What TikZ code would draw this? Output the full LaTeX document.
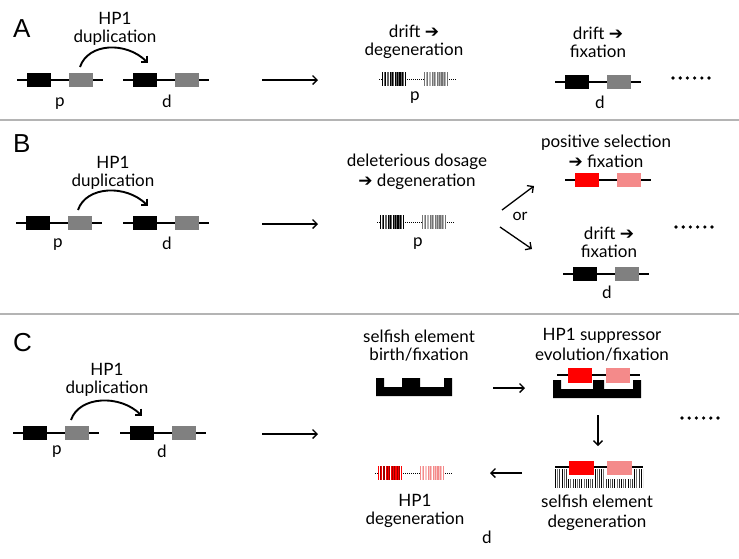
\documentclass[tikz,border=0pt]{standalone}
\usepackage{fontspec}
\setmainfont{Lato}
\newfontfamily\letterfont{Liberation Sans}
\newfontfamily\arrowfont{DejaVu Sans}
\usetikzlibrary{arrows.meta}
\definecolor{hpred}{HTML}{FF0000}
\definecolor{hppink}{HTML}{F48A8A}
\definecolor{boxgray}{HTML}{808080}
\definecolor{sepgray}{HTML}{B4B4B4}
\newcommand{\arr}{{\arrowfont ➔}}
\tikzset{
  gline/.style={line width=1.2pt},
  gbox/.style={minimum width=24pt, minimum height=14pt, inner sep=0pt, outer sep=0pt},
  lbl/.style={font=\fontsize{17}{18}\selectfont, align=center, inner sep=0pt},
  gl/.style={font=\fontsize{17}{17}\selectfont, inner sep=0pt, anchor=base},
  panel/.style={font=\letterfont\fontsize{26}{26}\selectfont, inner sep=0pt, anchor=base west},
  flow/.style={line width=1.3pt, -{Straight Barb[length=4.5pt,width=9pt]}},
  curv/.style={line width=1.9pt, -{Straight Barb[length=4.5pt,width=9pt]}},
  sepline/.style={draw=sepgray, line width=1.2pt},
  dline/.style={line width=0.8pt, dash pattern=on 1pt off 1pt},
  dotmark/.style={fill=black, circle, inner sep=0pt, minimum size=3.6pt},
}
\newcommand{\genepair}[5]{%
  \draw[gline] (#2,#3) -- ({#2+86},#3);
  \node[gbox,fill=#4] (#1a) at ({#2+22},#3) {};
  \node[gbox,fill=#5] (#1b) at ({#2+64},#3) {};
}
\newcommand{\stripeblock}[4]{% x0, y, colA, colB
  \fill[white] (#1,{#2-7}) rectangle ({#1+24},{#2+7});
  \foreach \a/\w in {0/1.1, 2.9/1.4, 5.2/0.8, 7.6/1.6, 10.3/0.9, 12.5/1.5, 15/0.8, 17.3/1.6, 20/0.9, 22.6/1.4}
    \fill[#3] ({#1+\a},{#2-7}) rectangle ({#1+\a+\w},{#2+7});
  \foreach \a/\w in {1.6/0.8, 4.5/0.5, 6.4/0.8, 9.4/0.6, 11.4/0.7, 14.2/0.5, 16.1/0.8, 19.1/0.6, 21.2/0.8}
    \fill[#4] ({#1+\a},{#2-7}) rectangle ({#1+\a+\w},{#2+7});
}
\newcommand{\degene}[6]{% x0, y, c1, c2, c3, c4
  \draw[dline] ({#1-3},#2) -- ({#1+75},#2);
  \stripeblock{#1}{#2}{#3}{#4}
  \stripeblock{#1+42}{#2}{#5}{#6}
}
\newcommand{\sixdots}[3]{% name, x0, y
  \foreach \i in {0,...,5} \node[dotmark] (#1\i) at ({#2+\i*7.2},#3) {};
}
\begin{document}
\begin{tikzpicture}[x=1pt,y=-1pt]
\useasboundingbox (0,0) rectangle (739,558);
\fill[white] (0,0) rectangle (739,558);
% separators
\draw[sepline] (0,120) -- (739,120);
\draw[sepline] (0,314) -- (739,314);
% panel letters
\node[panel] (LA) at (13,37) {A};
\node[panel] (LB) at (13,152) {B};
\node[panel] (LC) at (13,351) {C};

% ================= Panel A
\genepair{Ap}{17}{80}{black}{boxgray}
\genepair{Ad}{123}{80}{black}{boxgray}
\node[gl] (Apl) at (60,106) {p};
\node[gl] (Adl) at (167,107) {d};
\node[lbl] (Atxt) at (115,29) {HP1\\duplication};
\draw[curv] ([xshift=-1pt,yshift=6pt]Apb.north) .. controls +(8,-24) and +(-22,-22) .. ([xshift=3pt,yshift=10pt]Ada.north);
\coordinate (Aa1) at (262,80);
\coordinate (Aa2) at (318,80);
\draw[flow] (Aa1) -- (Aa2);
\node[lbl] (Adeg) at (414,42) {drift \arr\\degeneration};
\degene{382}{79}{black}{black!60}{black!55}{black!30}
\node[gl] (Adegp) at (415,100) {p};
\node[lbl] (Afix) at (598,42) {drift \arr\\fixation};
\genepair{Af}{555}{82}{black}{boxgray}
\node[gl] (Afd) at (600,108) {d};
\sixdots{Adots}{673}{78}

% ================= Panel B
\genepair{Bp}{16}{223}{black}{boxgray}
\genepair{Bd}{123}{223}{black}{boxgray}
\node[gl] (Bpl) at (58,247) {p};
\node[gl] (Bdl) at (167,249) {d};
\node[lbl] (Btxt) at (113,173) {HP1\\duplication};
\draw[curv] ([xshift=-2pt,yshift=6pt]Bpb.north) .. controls +(8,-24) and +(-22,-22) .. ([xshift=3pt,yshift=10pt]Bda.north);
\coordinate (Ba1) at (262,224);
\coordinate (Ba2) at (318,224);
\draw[flow] (Ba1) -- (Ba2);
\node[lbl, font=\fontsize{17}{20}\selectfont] (Bdel) at (417,172) {deleterious dosage\\\arr\ degeneration};
\degene{380}{222}{black}{black!60}{black!55}{black!30}
\node[gl] (Bdegp) at (418,246) {p};
\coordinate (Bo1) at (502,210);
\coordinate (Bo2) at (534,186);
\coordinate (Bo3) at (500,227);
\coordinate (Bo4) at (532,249);
\draw[flow] (Bo1) -- (Bo2);
\draw[flow] (Bo3) -- (Bo4);
\node[lbl, font=\fontsize{16}{16}\selectfont] (Bor) at (520,216) {or};
\node[lbl, font=\fontsize{17}{20}\selectfont] (Bpos) at (606,151) {positive selection\\\arr\ fixation};
\genepair{Br}{565}{180}{hpred}{hppink}
\node[lbl] (Bdrift) at (609,242) {drift \arr\\fixation};
\genepair{Bf}{563}{274}{black}{boxgray}
\node[gl] (Bfd) at (607,298) {d};
\sixdots{Bdots}{676}{227}

% ================= Panel C
\genepair{Cp}{13}{433}{black}{boxgray}
\genepair{Cd}{120}{433}{black}{boxgray}
\node[gl] (Cpl) at (57,454) {p};
\node[gl] (Cdl) at (162,457) {d};
\node[lbl] (Ctxt) at (107,380) {HP1\\duplication};
\draw[curv] ([xshift=-6pt,yshift=6pt]Cpb.north) .. controls +(8,-24) and +(-22,-22) .. ([xshift=0pt,yshift=10pt]Cda.north);
\coordinate (Ca1) at (262,434);
\coordinate (Ca2) at (318,434);
\draw[flow] (Ca1) -- (Ca2);
% selfish element birth
\node[lbl] (Cbirth) at (419,346) {selfish element\\birth/fixation};
\fill[black] (376,378) -- (384,378) -- (384,387) -- (402,387) -- (402,378) -- (420,378) -- (420,387) -- (444,387) -- (444,378) -- (452,378) -- (452,396) -- (376,396) -- cycle;
\coordinate (Cb1) at (493,388);
\coordinate (Cb2) at (525,388);
\draw[flow] (Cb1) -- (Cb2);
% suppressor
\node[lbl, font=\fontsize{17}{20}\selectfont] (Csup) at (602,345) {HP1 suppressor\\evolution/fixation};
\fill[black] (553,380) -- (561,380) -- (561,389) -- (593,389) -- (593,380) -- (604,380) -- (604,389) -- (633,389) -- (633,380) -- (641,380) -- (641,398) -- (553,398) -- cycle;
\draw[gline] (557,375) -- (640,375);
\node[gbox, fill=hpred, minimum height=15pt] (Csr) at (580,375.5) {};
\node[gbox, fill=hppink, minimum height=15pt] (Csp) at (618,375.5) {};
\coordinate (Cc1) at (598,415);
\coordinate (Cc2) at (598,446);
\draw[flow] (Cc1) -- (Cc2);
\sixdots{Cdots}{682}{418}
% degenerated selfish element
\begin{scope}
  \clip (555,469) -- (567,469) -- (567,479) -- (595,479) -- (595,469) -- (605,469) -- (605,479) -- (633,479) -- (633,469) -- (643,469) -- (643,488) -- (555,488) -- cycle;
  \foreach \i in {0,...,40} {
    \pgfmathtruncatemacro{\m}{mod(\i,3)}
    \ifnum\m=0 \def\sc{black}\else\ifnum\m=1 \def\sc{black!55}\else\def\sc{black!80}\fi\fi
    \fill[\sc] ({555+\i*2.2},469) rectangle ({555+\i*2.2+1},488);
  }
\end{scope}
\draw[gline] (555,467) -- (643,467);
\node[gbox, fill=hpred, minimum width=25pt] (Cdr) at (581.5,468) {};
\node[gbox, fill=hppink, minimum width=25pt] (Cdp) at (619.5,468) {};
\node[lbl, font=\fontsize{17}{20}\selectfont] (Csdeg) at (597,513) {selfish element\\degeneration};
\coordinate (Ce1) at (522,473);
\coordinate (Ce2) at (490,473);
\draw[flow] (Ce1) -- (Ce2);
% degenerated HP1
\degene{378}{473}{hpred}{hpred!60!black}{hppink}{hppink!50}
\node[lbl] (Chdeg) at (415,511) {HP1\\degeneration};
\node[gl] (Cstray) at (487,543) {d};
\end{tikzpicture}
\end{document}
